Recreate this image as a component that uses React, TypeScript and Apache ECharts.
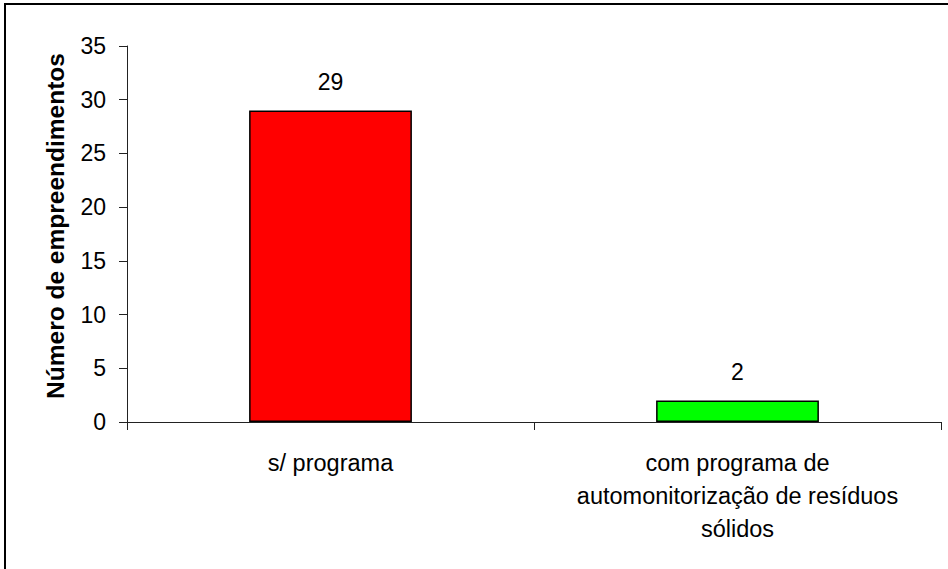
import React, { useEffect, useRef } from "react";
import * as echarts from "echarts";

const categories = ["s/ programa", "com programa de\nautomonitorização de resíduos\nsólidos"];
const values = [29, 2];
const barColors = ["#FF0000", "#00FF00"];
const yTicks = { min: 0, max: 35, interval: 5 };
const yName = "Número de empreendimentos";

export default function App() {
  const ref = useRef<HTMLDivElement>(null);
  useEffect(() => {
    const chart = echarts.init(ref.current!, null, { renderer: "svg" });
    const font = "'Liberation Sans', Arial, sans-serif";
    chart.setOption({
      animation: false,
      backgroundColor: "#ffffff",
      textStyle: { fontFamily: font },
      graphic: [
        {
          type: "rect",
          shape: { x: 5, y: 4, width: 960, height: 600 },
          style: { fill: "none", stroke: "#000", lineWidth: 2 },
          silent: true,
          z: 100,
        },
      ],
      grid: { left: 127, right: 7, top: 46, bottom: 147, containLabel: false },
      xAxis: {
        type: "category",
        data: categories,
        boundaryGap: true,
        axisLine: { lineStyle: { color: "#222", width: 1 } },
        axisTick: { show: true, inside: false, length: 8, alignWithLabel: false, lineStyle: { color: "#222" } },
        axisLabel: {
          color: "#000",
          fontSize: 23.5,
          fontFamily: font,
          lineHeight: 33,
          margin: 24,
          interval: 0,
        },
      },
      yAxis: {
        type: "value",
        min: yTicks.min,
        max: yTicks.max,
        interval: yTicks.interval,
        name: yName,
        nameLocation: "middle",
        nameRotate: 90,
        nameGap: 59,
        nameTextStyle: {
          color: "#000",
          fontSize: 24.5,
          fontWeight: "bold",
          fontFamily: font,
          padding: [0, 0, 0, 16],
        },
        axisLine: { show: true, lineStyle: { color: "#222", width: 1 } },
        axisTick: { show: true, inside: false, length: 8, lineStyle: { color: "#222" } },
        splitLine: { show: false },
        axisLabel: { color: "#000", fontSize: 23, fontFamily: font, margin: 21 },
      },
      series: [
        {
          type: "bar",
          barWidth: "40%",
          data: values.map((v, i) => ({
            value: v,
            itemStyle: { color: barColors[i], borderColor: "#000", borderWidth: 1.5 },
          })),
          label: {
            show: true,
            position: "top",
            distance: 17,
            color: "#000",
            fontSize: 23,
            fontFamily: font,
          },
        },
      ],
    });
    return () => chart.dispose();
  }, []);
  return <div ref={ref} style={{ width: 948, height: 569, position: "absolute", left: 0, top: 0 }} />;
}
